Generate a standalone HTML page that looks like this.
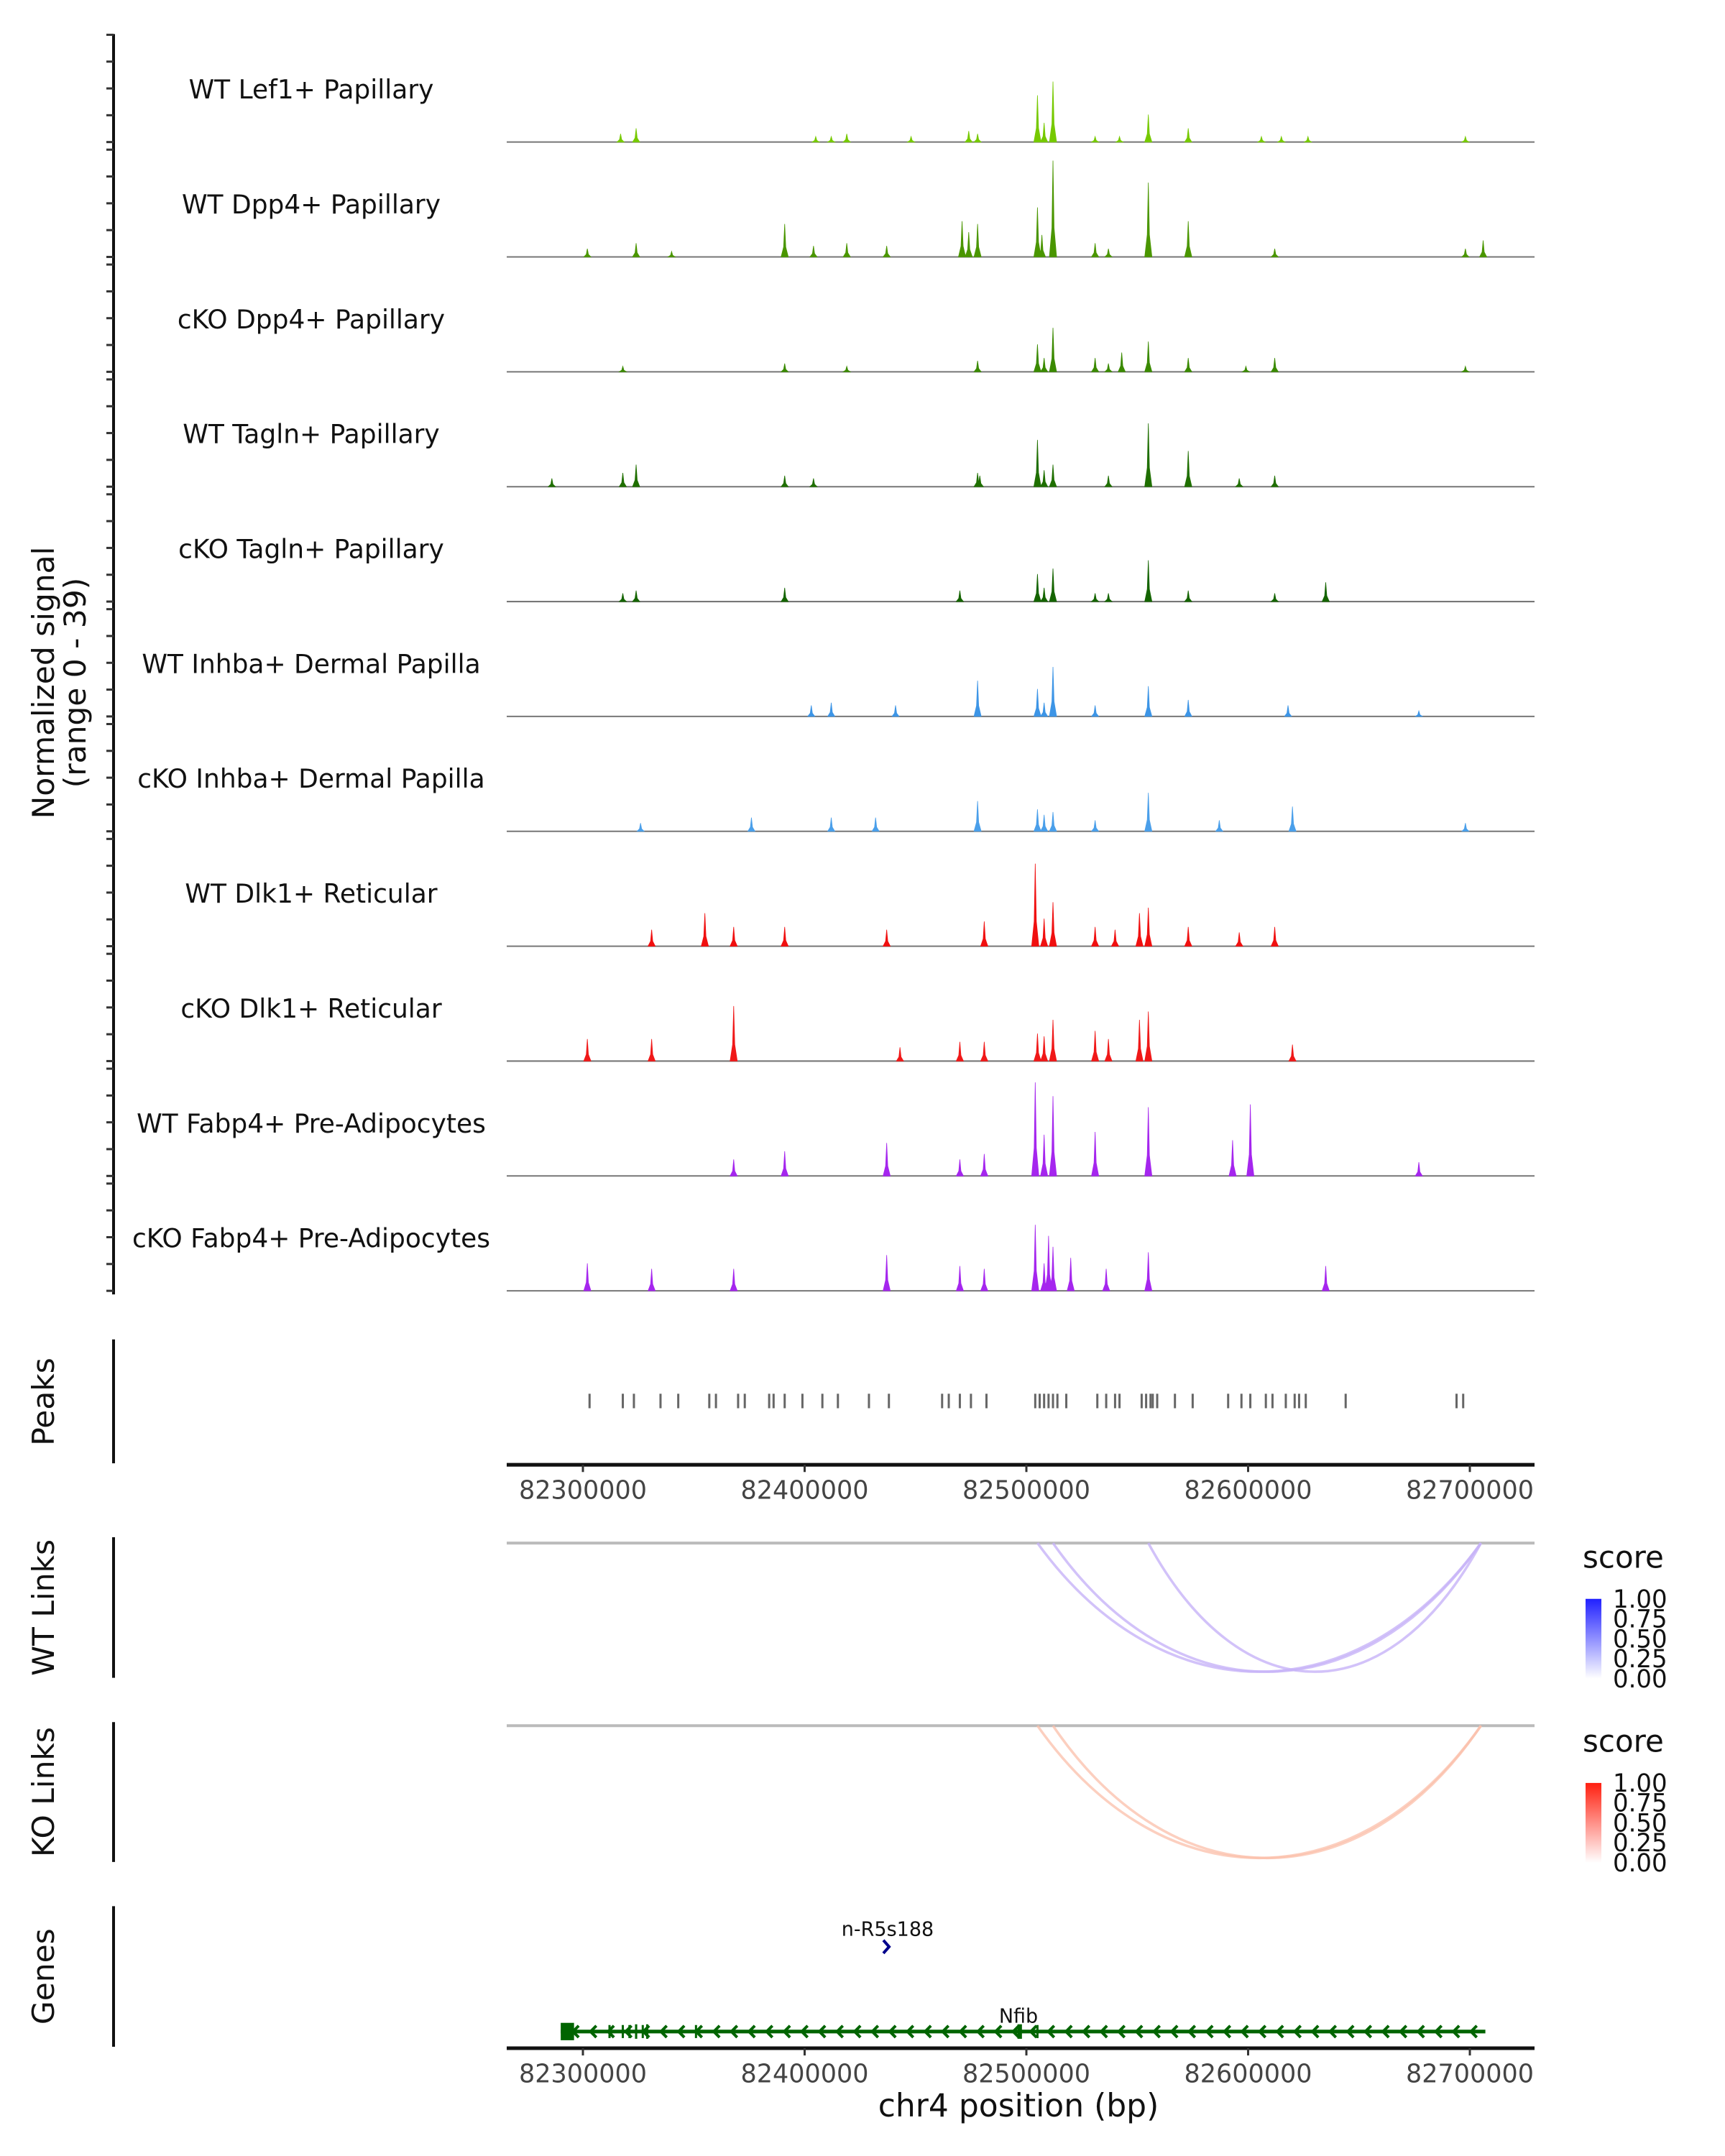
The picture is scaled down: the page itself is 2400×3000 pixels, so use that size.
<!DOCTYPE html>
<html><head><meta charset="utf-8"><style>
html,body{margin:0;padding:0;background:#fff;}
svg{display:block;font-family:"DejaVu Sans","Liberation Sans",sans-serif;}
</style></head><body>
<svg id="chart" width="2400" height="3000" viewBox="0 0 2400 3000" xmlns="http://www.w3.org/2000/svg">
<g id="root" transform="translate(-3,0) scale(1,1.0085)">
<g id="tracks"></g>
<text transform="translate(78,942) rotate(-90)" text-anchor="middle" font-size="42" fill="#111">Normalized signal</text>
<text transform="translate(122,942) rotate(-90)" text-anchor="middle" font-size="42" fill="#111">(range 0 - 39)</text>
<g id="peaks"></g>
<g id="links"></g>
<g id="genes"></g>
</g>
</svg>
<script>
const trackNames=["WT Lef1+ Papillary","WT Dpp4+ Papillary","cKO Dpp4+ Papillary","WT Tagln+ Papillary","cKO Tagln+ Papillary","WT Inhba+ Dermal Papilla","cKO Inhba+ Dermal Papilla","WT Dlk1+ Reticular","cKO Dlk1+ Reticular","WT Fabp4+ Pre-Adipocytes","cKO Fabp4+ Pre-Adipocytes"];
const trackColors=["#76c900","#4a9600","#3a8a00","#1f6f00","#146400","#3d95e6","#4a9fea","#f01010","#f01818","#a526ee","#a526ee"];
// peak positions (kb) and heights (signal units 0-39)
const peakPos=[
[82505,82512,82555,82573,82324,82317,82474,82478,82419,82412,82405,82606,82615,82698,82508,82531,82542,82448,82627],
[82512,82505,82555,82573,82391,82478,82471,82474,82324,82302,82419,82404,82437,82698,82706,82531,82537,82612,82340,82507],
[82512,82505,82543,82555,82531,82537,82573,82612,82391,82508,82478,82318,82698,82419,82599],
[82555,82505,82573,82324,82318,82512,82391,82479,82537,82612,82596,82286,82478,82404,82508],
[82555,82505,82512,82635,82391,82324,82531,82537,82573,82470,82612,82318,82508],
[82478,82512,82505,82555,82573,82412,82531,82618,82677,82403,82441,82508],
[82478,82555,82505,82512,82620,82376,82412,82432,82531,82587,82698,82326,82508],
[82504,82512,82555,82551,82355,82368,82391,82481,82531,82540,82573,82596,82612,82331,82437,82508],
[82368,82555,82551,82505,82512,82531,82302,82331,82481,82470,82620,82443,82537,82508],
[82504,82512,82531,82555,82437,82593,82601,82391,82481,82677,82368,82470,82508,82508],
[82504,82510,82512,82437,82555,82302,82536,82470,82481,82331,82635,82368,82508,82520]
];
const peakVal=[
[17,22,10,5,5,3,4,3,3,2,2,2,2,2,7,2,2,2,2],
[35,18,27,13,12,12,13,9,5,3,5,4,4,3,6,5,3,3,2,8],
[16,10,7,11,5,3,5,5,3,5,4,2,2,2,2],
[23,17,13,8,5,8,4,4,4,4,3,3,5,3,6],
[15,10,12,7,5,4,3,3,4,4,3,3,5],
[13,18,10,11,6,5,4,4,2,4,4,5],
[11,14,8,7,9,5,5,5,4,4,3,3,6],
[30,16,14,12,12,7,7,9,7,6,7,5,7,6,6,10],
[20,18,15,10,15,11,8,8,7,7,6,5,8,9],
[34,29,16,25,12,13,26,9,8,5,6,6,12,15],
[24,20,16,13,14,10,8,9,8,8,9,8,10,12]
];
const peakTicks=[82303,82318,82323,82335,82343,82357,82360,82370,82373,82384,82386,82391,82399,82408,82415,82429,82438,82462,82465,82470,82475,82482,82504,82506,82508,82510,82512,82514,82518,82532,82536,82540,82542,82552,82554,82556,82557,82559,82567,82575,82591,82597,82601,82608,82611,82617,82621,82623,82626,82644,82694,82697];
const axisTicks=[82300000,82400000,82500000,82600000,82700000];
const axisTickLabels=["82300000","82400000","82500000","82600000","82700000"];
const wtLinkStart=[82505,82512,82555];
const wtLinkEnd=[82705,82705,82705];
const wtLinkScore=[0.3,0.3,0.3];
const koLinkStart=[82505,82512];
const koLinkEnd=[82705,82705];
const koLinkScore=[0.25,0.25];
const legendLabels=["1.00","0.75","0.50","0.25","0.00"];
const legendValues=[1,0.75,0.5,0.25,0];
const geneStart=[82290];
const geneEnd=[82707];
const exonPos=[82293,82312,82318,82321,82324,82327,82329,82351,82497,82505];
const exonWidth=[6,0.4,0.4,0.4,1,0.6,1,0.6,2,0.6];

const NS="http://www.w3.org/2000/svg";
const PX0=708, PX1=2138;
function X(kb){return 814+(kb-82300)*3.085;}
function mk(tag,attrs,parent){const e=document.createElementNS(NS,tag);for(const k in attrs)e.setAttribute(k,attrs[k]);parent.appendChild(e);return e;}
const TH=148, TS=158.5;
function Y(v,base){return base-v/39*TH;}

const gT=document.getElementById('tracks');
let ax=mk('line',{x1:161,y1:47,x2:161,y2:1786,stroke:'#111','stroke-width':4},gT);


trackNames.forEach((nm,i)=>{
  const base=196+TS*i;
  for(let t=0;t<5;t++){
    const ty=base-t*TH/4;
    const tk=mk('line',{x1:151,y1:ty,x2:161,y2:ty,stroke:'#333','stroke-width':3},gT);
    
    
  }
  const lb=mk('text',{x:436,y:base-60,'text-anchor':'middle','font-size':36,fill:'#111'},gT);
  lb.textContent=nm;
  
  
  const bl=mk('line',{x1:PX0,y1:base,x2:PX1,y2:base,stroke:'#777','stroke-width':2},gT);
  
  
  let d='';
  peakPos[i].forEach((p,j)=>{
    const v=peakVal[i][j];
    const cx=X(p);
    d+=`M${cx-5},${base}L${cx-1.5},${Y(v*0.3,base)}L${cx},${Y(v,base)}L${cx+1.5},${Y(v*0.3,base)}L${cx+5},${base}Z`;
  });
  const pk=mk('path',{d:d,fill:trackColors[i],stroke:trackColors[i],'stroke-width':0.8},gT);
  
  
});

const gP=document.getElementById('peaks');
let pl=mk('line',{x1:161,y1:1848,x2:161,y2:2019,stroke:'#111','stroke-width':4},gP);


let pt=mk('text',{transform:'translate(78,1934) rotate(-90)','text-anchor':'middle','font-size':42,fill:'#111'},gP);
pt.textContent='Peaks';


peakTicks.forEach(p=>{
  const r=mk('rect',{x:X(p)-1.5,y:1923,width:3,height:20,fill:'#666'},gP);
  
  
});
function xAxis(g,y){
  const l=mk('line',{x1:PX0,y1:y,x2:PX1,y2:y,stroke:'#111','stroke-width':5},g);
  
  
  axisTicks.forEach((t,i)=>{
    const x=X(t/1000);
    const tk=mk('line',{x1:x,y1:y,x2:x,y2:y+10,stroke:'#333','stroke-width':3},g);
    
    
    const tl=mk('text',{x:x,y:y+47,'text-anchor':'middle','font-size':35,fill:'#444'},g);
    tl.textContent=axisTickLabels[i];
    
    
  });
}
xAxis(gP,2021);

const gL=document.getElementById('links');
function linkPanel(title,y0,axTop,axBot,starts,ends,scores,bottom,c0,c1,legY){
  const a=mk('line',{x1:161,y1:axTop,x2:161,y2:axBot,stroke:'#111','stroke-width':4},gL);
  
  
  const t=mk('text',{transform:`translate(78,${(axTop+axBot)/2}) rotate(-90)`,'text-anchor':'middle','font-size':42,fill:'#111'},gL);
  t.textContent=title;
  
  
  const b=mk('line',{x1:PX0,y1:y0,x2:PX1,y2:y0,stroke:'#bbb','stroke-width':4},gL);
  
  
  starts.forEach((s,i)=>{
    const x1=X(s),x2=X(ends[i]);
    const depth=bottom-y0;
    const arc=mk('path',{d:`M${x1},${y0}C${x1+(x2-x1)*0.28},${y0+depth*1.33} ${x2-(x2-x1)*0.28},${y0+depth*1.33} ${x2},${y0}`,fill:'none',stroke:c0,'stroke-width':3.5,'stroke-opacity':0.5+scores[i]},gL);
    
    
  });
  const lt=mk('text',{x:2205,y:legY,'font-size':42,fill:'#111'},gL);
  lt.textContent='score';
  
  
  const gid='g'+legY;
  const defs=mk('defs',{},gL);
  const lg=mk('linearGradient',{id:gid,x1:0,y1:0,x2:0,y2:1},defs);
  mk('stop',{offset:'0','stop-color':c1},lg);
  mk('stop',{offset:'1','stop-color':'#ffffff'},lg);
  const bar=mk('rect',{x:2209,y:legY+43,width:22,height:110,fill:`url(#${gid})`},gL);
  
  
  legendLabels.forEach((lab,i)=>{
    const yy=legY+43+(1-legendValues[i])*110;
    const tx=mk('text',{x:2247,y:yy+12,'font-size':34,fill:'#111'},gL);
    tx.textContent=lab;
    
    
  });
}
linkPanel('WT Links',2129,2121,2315,wtLinkStart,wtLinkEnd,wtLinkScore,2307,'#c7b3f7','#2020ff',2163);
linkPanel('KO Links',2381,2376,2569,koLinkStart,koLinkEnd,koLinkScore,2564,'#fbbfaa','#ff2010',2417);

const gG=document.getElementById('genes');
let ga=mk('line',{x1:161,y1:2630,x2:161,y2:2824,stroke:'#111','stroke-width':4},gG);


let gt=mk('text',{transform:'translate(78,2727) rotate(-90)','text-anchor':'middle','font-size':42,fill:'#111'},gG);
gt.textContent='Genes';


const gy=2803;
const gl=mk('line',{x1:X(geneStart[0]),y1:gy,x2:X(geneEnd[0]),y2:gy,stroke:'#006400','stroke-width':5},gG);


for(let x=X(geneStart[0])+20;x<X(geneEnd[0]);x+=24.5){
  const c=mk('path',{d:`M${x+5},${gy-8}L${x-3},${gy}L${x+5},${gy+8}`,fill:'none',stroke:'#006400','stroke-width':4},gG);
  
  
}
exonPos.forEach((p,i)=>{
  const w=Math.max(3,exonWidth[i]*3.085);
  const h=i===0?24:(exonWidth[i]>=1?20:18);
  const r=mk('rect',{x:X(p)-w/2,y:gy-h/2,width:w,height:h,fill:'#006400'},gG);
  
  
});
let nl=mk('text',{x:1420,y:2791,'text-anchor':'middle','font-size':27,fill:'#111'},gG);
nl.textContent='Nfib';


let rl=mk('text',{x:1238,y:2671,'text-anchor':'middle','font-size':27,fill:'#111'},gG);
rl.textContent='n-R5s188';


let rg=mk('path',{d:'M1232,2677L1240,2686L1232,2695',fill:'none',stroke:'#00008b','stroke-width':4},gG);


xAxis(gG,2826);
let xt=mk('text',{x:1420,y:2920,'text-anchor':'middle','font-size':44,fill:'#111'},gG);
xt.textContent='chr4 position (bp)';


</script>
</body></html>
